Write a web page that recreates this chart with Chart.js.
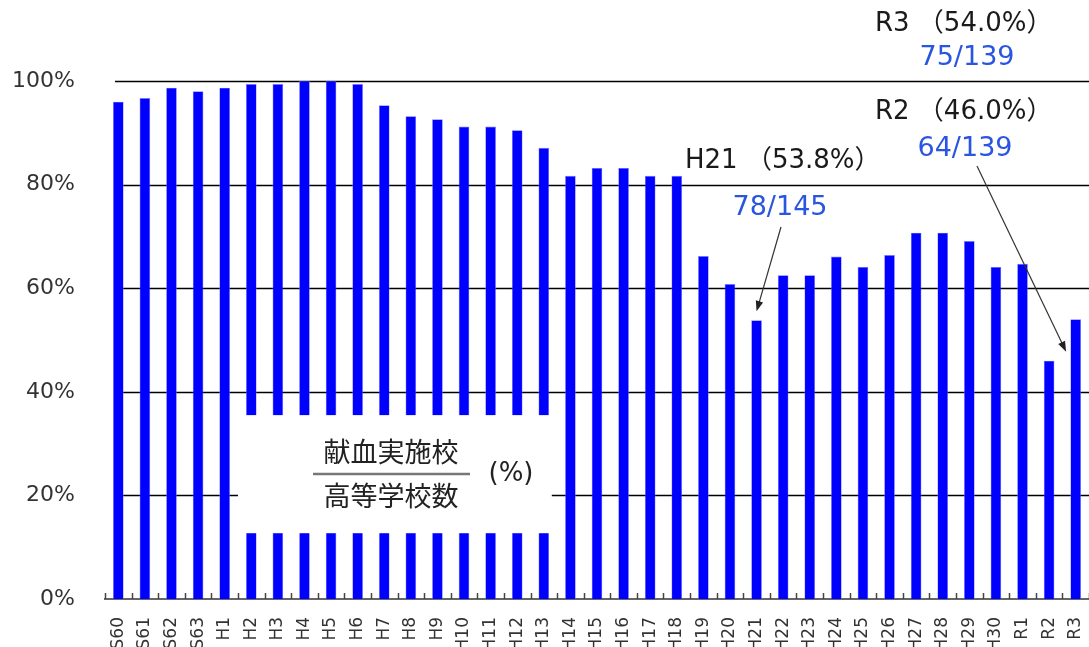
<!DOCTYPE html>
<html>
<head>
<meta charset="utf-8">
<script src="https://cdn.jsdelivr.net/npm/chart.js@4/dist/chart.umd.min.js"></script>
<style>
  html, body { margin: 0; padding: 0; background: #fff; overflow: hidden; }
  #wrap { width: 1089px; height: 647px; }
</style>
</head>
<body>
<div id="wrap"><canvas id="rateChart" width="1089" height="647"></canvas></div>
<script>
// school years (Showa / Heisei / Reiwa)
const years = ['S60', 'S61', 'S62', 'S63',
  'H1', 'H2', 'H3', 'H4', 'H5', 'H6', 'H7', 'H8', 'H9', 'H10',
  'H11', 'H12', 'H13', 'H14', 'H15', 'H16', 'H17', 'H18', 'H19', 'H20',
  'H21', 'H22', 'H23', 'H24', 'H25', 'H26', 'H27', 'H28', 'H29', 'H30',
  'R1', 'R2', 'R3'];

// share of high schools holding a blood drive (%)
const rates = [96.0, 96.7, 98.7, 98.0,
  98.7, 99.4, 99.4, 100, 100, 99.4, 95.3, 93.2, 92.6, 91.2,
  91.2, 90.5, 87.1, 81.7, 83.2, 83.2, 81.7, 81.7, 66.2, 60.8,
  53.8, 62.5, 62.5, 66.1, 64.1, 66.4, 70.7, 70.7, 69.1, 64.1,
  64.7, 46.0, 54.0];

const yTicks = [0, 20, 40, 60, 80, 100];

// callouts: year, headline, schools/total
const calloutYears = ['H21', 'R2', 'R3'];
const calloutTitles = ['H21 （53.8%）', 'R2 （46.0%）', 'R3 （54.0%）'];
const calloutFractions = ['78/145', '64/139', '75/139'];

const ctx = document.getElementById('rateChart');

function arrow(c, x1, y1, x2, y2) {
    const a = Math.atan2(y2 - y1, x2 - x1);
    c.beginPath();
    c.moveTo(x1, y1);
    c.lineTo(x2 - 6 * Math.cos(a), y2 - 6 * Math.sin(a));
    c.strokeStyle = '#333';
    c.lineWidth = 1.2;
    c.stroke();
    c.beginPath();
    c.moveTo(x2, y2);
    c.lineTo(x2 - 11 * Math.cos(a - 0.35), y2 - 11 * Math.sin(a - 0.35));
    c.lineTo(x2 - 11 * Math.cos(a + 0.35), y2 - 11 * Math.sin(a + 0.35));
    c.closePath();
    c.fillStyle = '#222';
    c.fill();
}

const overlay = {
    id: 'overlay',
    beforeDatasetsDraw(chart) {
        const c = chart.ctx, area = chart.chartArea, y = chart.scales.y;
        c.save();
        c.strokeStyle = '#000';
        c.lineWidth = 1.3;
        yTicks.forEach(v => {
            if (v === 0) return;
            const py = Math.round(y.getPixelForValue(v)) + 0.5;
            c.beginPath();
            c.moveTo(area.left + 10, py);
            c.lineTo(area.right, py);
            c.stroke();
        });
        c.restore();
    },
    afterDatasetsDraw(chart) {
        const c = chart.ctx, area = chart.chartArea;
        const x = chart.scales.x, y = chart.scales.y;
        c.save();

        // small ticks between bars, pointing up
        c.strokeStyle = '#444';
        c.lineWidth = 1.5;
        for (let i = 0; i <= years.length; i++) {
            const px = Math.round(x.getPixelForValue(i - 0.5)) + 0.5;
            c.beginPath();
            c.moveTo(px, area.bottom);
            c.lineTo(px, area.bottom - 6);
            c.stroke();
        }

        // formula box
        const bx1 = x.getPixelForValue(4.5), bx2 = x.getPixelForValue(16.3);
        const by1 = y.getPixelForValue(35.5), by2 = y.getPixelForValue(12.7);
        c.fillStyle = '#fff';
        c.fillRect(bx1, by1, bx2 - bx1, by2 - by1);

        c.fillStyle = '#222';
        c.textAlign = 'center';
        c.textBaseline = 'middle';
        c.font = '27px "Noto Sans CJK JP"';
        c.fillText('献血実施校', 391, 452);
        c.fillText('高等学校数', 391, 496);
        c.strokeStyle = '#777';
        c.lineWidth = 2.5;
        c.beginPath();
        c.moveTo(313, 474);
        c.lineTo(470, 474);
        c.stroke();
        c.font = '26px "DejaVu Sans"';
        c.fillText('(%)', 511, 474);

        // callout labels
        c.textAlign = 'left';
        c.font = '26px "DejaVu Sans", "Noto Sans CJK JP"';
        c.fillStyle = '#1a1a1a';
        c.fillText(calloutTitles[0], 685, 161);
        c.fillText(calloutTitles[1], 875, 112);
        c.fillText(calloutTitles[2], 875, 24);

        c.textAlign = 'center';
        c.font = '27px "DejaVu Sans"';
        c.fillStyle = '#2a55e0';
        c.fillText(calloutFractions[0], 780, 208);
        c.fillText(calloutFractions[1], 965, 149);
        c.fillText(calloutFractions[2], 967, 58);

        // arrows to the bars
        const h21 = years.indexOf(calloutYears[0]);
        const r2 = years.indexOf(calloutYears[1]);
        arrow(c, 781, 227, x.getPixelForValue(h21), y.getPixelForValue(rates[h21]) - 9);
        arrow(c, 977, 166, x.getPixelForValue(r2) + 17, y.getPixelForValue(rates[r2]) - 9);

        c.restore();
    }
};

new Chart(ctx, {
    type: 'bar',
    data: {
        labels: years,
        datasets: [{
            label: '献血実施率',
            data: rates,
            backgroundColor: '#0000ff',
            borderColor: '#7a7aff',
            borderWidth: 0.6,
            categoryPercentage: 1,
            barPercentage: 0.4
        }]
    },
    options: {
        responsive: false,
        animation: false,
        layout: {
            padding: { top: 81, right: 0, left: 0, bottom: 0 }
        },
        scales: {
            x: {
                offset: true,
                grid: { display: false, drawTicks: false },
                border: { display: true, color: '#666', width: 2 },
                ticks: {
                    autoSkip: false,
                    minRotation: 90,
                    maxRotation: 90,
                    padding: 18,
                    color: '#333',
                    font: { family: 'DejaVu Sans', size: 17 }
                },
                afterFit(scale) {
                    scale.height = 48;
                    scale.paddingLeft = 0;
                    scale.paddingRight = 0;
                }
            },
            y: {
                min: 0,
                max: 100,
                grid: { display: false, drawTicks: false },
                border: { display: false },
                ticks: {
                    stepSize: 20,
                    padding: 30,
                    color: '#333',
                    font: { family: 'DejaVu Sans', size: 22 },
                    callback: v => v + '%'
                },
                afterFit(scale) { scale.width = 105; }
            }
        },
        plugins: {
            legend: { display: false },
            tooltip: { enabled: false }
        }
    },
    plugins: [overlay]
});
</script>
</body>
</html>
